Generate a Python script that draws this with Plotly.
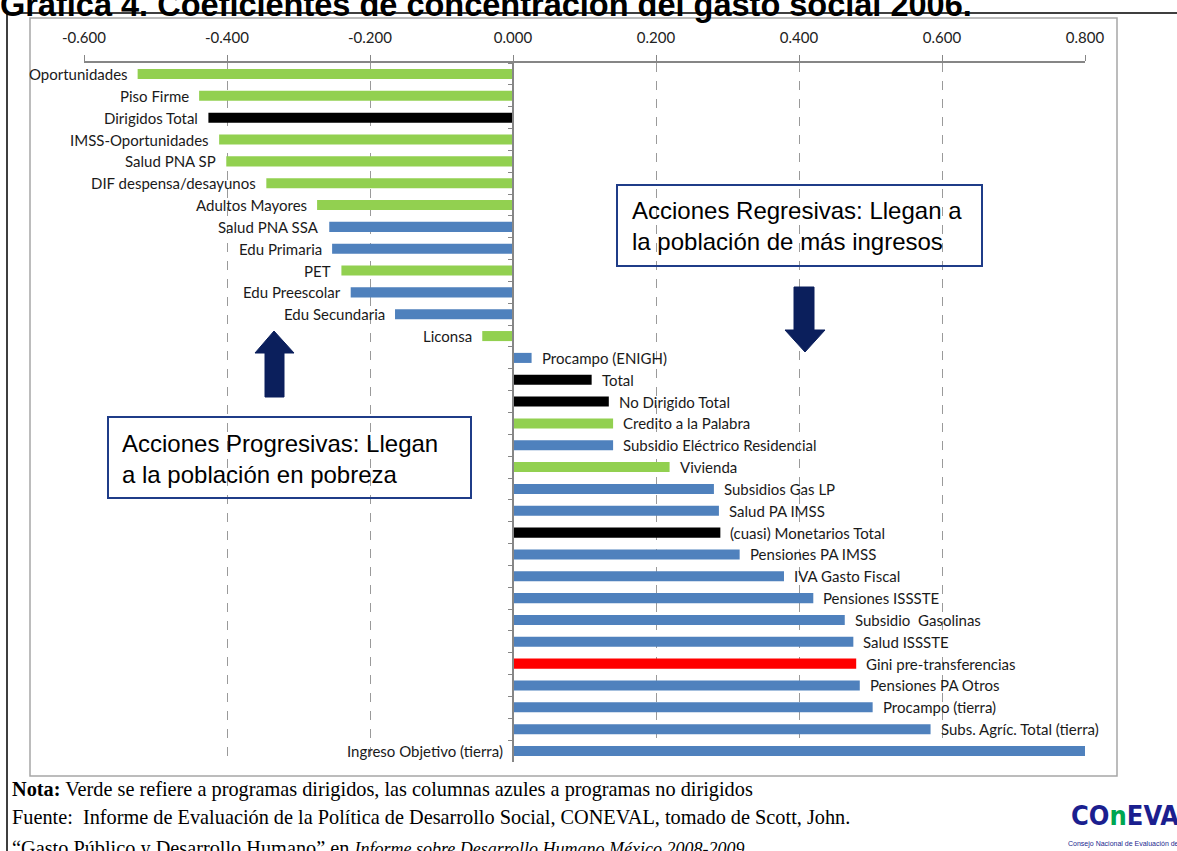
import plotly.graph_objects as go

# ---------------- data ----------------
categories = [
    "Oportunidades", "Piso Firme", "Dirigidos Total", "IMSS-Oportunidades",
    "Salud PNA SP", "DIF despensa/desayunos", "Adultos Mayores", "Salud PNA SSA",
    "Edu Primaria", "PET", "Edu Preescolar", "Edu Secundaria", "Liconsa",
    "Procampo (ENIGH)", "Total", "No Dirigido Total", "Credito a la Palabra",
    "Subsidio Eléctrico Residencial", "Vivienda", "Subsidios Gas LP",
    "Salud PA IMSS", "(cuasi) Monetarios Total", "Pensiones PA IMSS",
    "IVA Gasto Fiscal", "Pensiones ISSSTE", "Subsidio  Gasolinas", "Salud ISSSTE",
    "Gini pre-transferencias", "Pensiones PA Otros", "Procampo (tierra)",
    "Subs. Agríc. Total (tierra)", "Ingreso Objetivo (tierra)",
]
values = [
    -0.525, -0.439, -0.426, -0.411, -0.401, -0.345, -0.274, -0.257,
    -0.253, -0.240, -0.227, -0.165, -0.043,
    0.026, 0.110, 0.134, 0.140, 0.140, 0.219, 0.281, 0.288, 0.290, 0.317,
    0.379, 0.420, 0.464, 0.476, 0.480, 0.485, 0.503, 0.584, 0.800,
]
groups = [
    "dir", "dir", "tot", "dir", "dir", "dir", "dir", "nodir",
    "nodir", "dir", "nodir", "nodir", "dir",
    "nodir", "tot", "tot", "dir", "nodir", "dir", "nodir", "nodir", "tot", "nodir",
    "nodir", "nodir", "nodir", "nodir", "gini", "nodir", "nodir", "nodir", "nodir",
]
group_colors = {"dir": "#92D050", "nodir": "#4F81BD", "tot": "#000000", "gini": "#FF0000"}
x_ticks = [-0.6, -0.4, -0.2, 0.0, 0.2, 0.4, 0.6, 0.8]
x_tick_labels = ["-0.600", "-0.400", "-0.200", "0.000", "0.200", "0.400", "0.600", "0.800"]
x_range = [-0.6, 0.8]

title_text = "<b>Gráfica 4. Coeficientes de concentración del gasto social 2006.</b>"
box_regresivas = "Acciones Regresivas: Llegan a<br>la población de más ingresos"
box_progresivas = "Acciones Progresivas: Llegan<br>a la población en pobreza"
note_lines = [
    "<b>Nota:</b> Verde se refiere a programas dirigidos, las columnas azules a programas no dirigidos",
    "Fuente:  Informe de Evaluación de la Política de Desarrollo Social, CONEVAL, tomado de Scott, John.",
    "“Gasto Público y Desarrollo Humano” en <i><span style='font-size:18px'>Informe sobre Desarrollo Humano México 2008-2009</span></i>",
]

# ---------------- layout geometry (pixels) ----------------
W, H = 1177, 851
L, R, T, B = 84, 1085, 63, 762


def fx(px):
    return (px - L) / (R - L)


def fy(py):
    return (B - py) / (B - T)


LABEL_FONT = dict(family="Lato, Open Sans, sans-serif", size=15, color="#1a1a1a")
NAVY = "#0B1F5C"
BOX = "#1F3C88"

fig = go.Figure()
fig.add_trace(go.Bar(
    x=values, y=categories, orientation="h",
    marker=dict(color=[group_colors[g] for g in groups], line=dict(width=0)),
    hoverinfo="x+y", showlegend=False,
))

annotations = []
last = len(categories) - 1
for i, (c, v) in enumerate(zip(categories, values)):
    if i == last:
        annotations.append(dict(x=0, y=c, xref="x", yref="y", text=c, showarrow=False,
                                xanchor="right", xshift=-8, font=LABEL_FONT))
    elif v < 0:
        annotations.append(dict(x=v, y=c, xref="x", yref="y", text=c, showarrow=False,
                                xanchor="right", xshift=-8, font=LABEL_FONT))
    else:
        annotations.append(dict(x=v, y=c, xref="x", yref="y", text=c, showarrow=False,
                                xanchor="left", xshift=8, font=LABEL_FONT))

# title (partly cut at the top edge, as in the reference)
annotations.append(dict(x=fx(-2), y=fy(25), xref="paper", yref="paper", text=title_text,
                        showarrow=False, xanchor="left", yanchor="bottom",
                        font=dict(family="Liberation Sans, Arial, sans-serif", size=32.5, color="#000")))

# boxed texts
annotations.append(dict(x=fx(630), y=fy(226), xref="paper", yref="paper", text=box_regresivas,
                        showarrow=False, xanchor="left", yanchor="middle", align="left",
                        font=dict(family="Liberation Sans, Arial, sans-serif", size=24, color="#000")))
annotations.append(dict(x=fx(120), y=fy(459), xref="paper", yref="paper", text=box_progresivas,
                        showarrow=False, xanchor="left", yanchor="middle", align="left",
                        font=dict(family="Liberation Sans, Arial, sans-serif", size=24, color="#000")))

# notes
for line, py in zip(note_lines, [789, 817, 848]):
    annotations.append(dict(x=fx(10), y=fy(py), xref="paper", yref="paper", text=line,
                            showarrow=False, xanchor="left", yanchor="middle",
                            font=dict(family="Liberation Serif, Times New Roman, serif", size=20.3, color="#000")))

# logo
annotations.append(dict(x=fx(1069), y=fy(815), xref="paper", yref="paper",
                        text="CO<span style='color:#00A651'>n</span>EVAL",
                        showarrow=False, xanchor="left", yanchor="middle",
                        font=dict(family="Liberation Sans Narrow, DejaVu Sans Condensed, sans-serif",
                                  size=27, color="#1B1F8F", weight="bold")))
annotations.append(dict(x=fx(1066), y=fy(844), xref="paper", yref="paper",
                        text="Consejo Nacional de Evaluación de la Política de Desarrollo Social",
                        showarrow=False, xanchor="left", yanchor="middle",
                        font=dict(family="Liberation Sans, Arial, sans-serif", size=7, color="#1B1F8F")))

shapes = []
# outer black border
shapes.append(dict(type="path", xref="paper", yref="paper",
                   path=f"M {fx(7)} {fy(860)} L {fx(7)} {fy(13)} L {fx(1190)} {fy(13)}",
                   line=dict(color="#000", width=1.5)))
# chart area frame
shapes.append(dict(type="rect", xref="paper", yref="paper",
                   x0=fx(30), x1=fx(1117), y0=fy(776), y1=fy(18),
                   line=dict(color="#A6A6A6", width=1.5), layer="below"))
# text boxes
shapes.append(dict(type="rect", xref="paper", yref="paper",
                   x0=fx(617), x1=fx(982), y0=fy(266), y1=fy(185),
                   line=dict(color=BOX, width=2)))
shapes.append(dict(type="rect", xref="paper", yref="paper",
                   x0=fx(108), x1=fx(471), y0=fy(498), y1=fy(417),
                   line=dict(color=BOX, width=2)))


def arrow_path(pts):
    return "M " + " L ".join(f"{fx(a)} {fy(b)}" for a, b in pts) + " Z"


up = [(274, 331), (255, 353), (265, 353), (265, 397), (284, 397), (284, 353), (294, 353)]
down = [(805, 352), (785, 330), (794, 330), (794, 287), (814, 287), (814, 330), (825, 330)]
for pts in (up, down):
    shapes.append(dict(type="path", xref="paper", yref="paper", path=arrow_path(pts),
                       fillcolor=NAVY, line=dict(color=NAVY, width=1)))

fig.update_layout(
    width=W, height=H,
    margin=dict(l=L, r=W - R, t=T, b=H - B),
    paper_bgcolor="white", plot_bgcolor="white",
    bargap=0.54,
    xaxis=dict(
        range=x_range, side="top", tickvals=x_ticks, ticktext=x_tick_labels,
        showgrid=True, gridcolor="#9A9A9A", griddash="dash", gridwidth=1,
        zeroline=False, showline=True, linecolor="#868686", linewidth=1.5,
        ticks="outside", ticklen=6, tickcolor="#868686",
        tickfont=dict(family="Lato, Open Sans, sans-serif", size=15, color="#222"),
        ticklabelstandoff=6, fixedrange=True,
    ),
    yaxis=dict(
        autorange="reversed", showticklabels=False, showgrid=False, zeroline=False,
        anchor="free", position=(0 - x_range[0]) / (x_range[1] - x_range[0]),
        showline=True, linecolor="#868686", linewidth=1.5,
        ticks="outside", ticklen=4, tickcolor="#868686", tickson="boundaries",
        fixedrange=True,
    ),
    annotations=annotations,
    shapes=shapes,
)

fig.write_html(
    "out.html",
    config={"displayModeBar": False},
    post_script="document.body.style.margin='0px';document.body.style.overflow='hidden';",
)
